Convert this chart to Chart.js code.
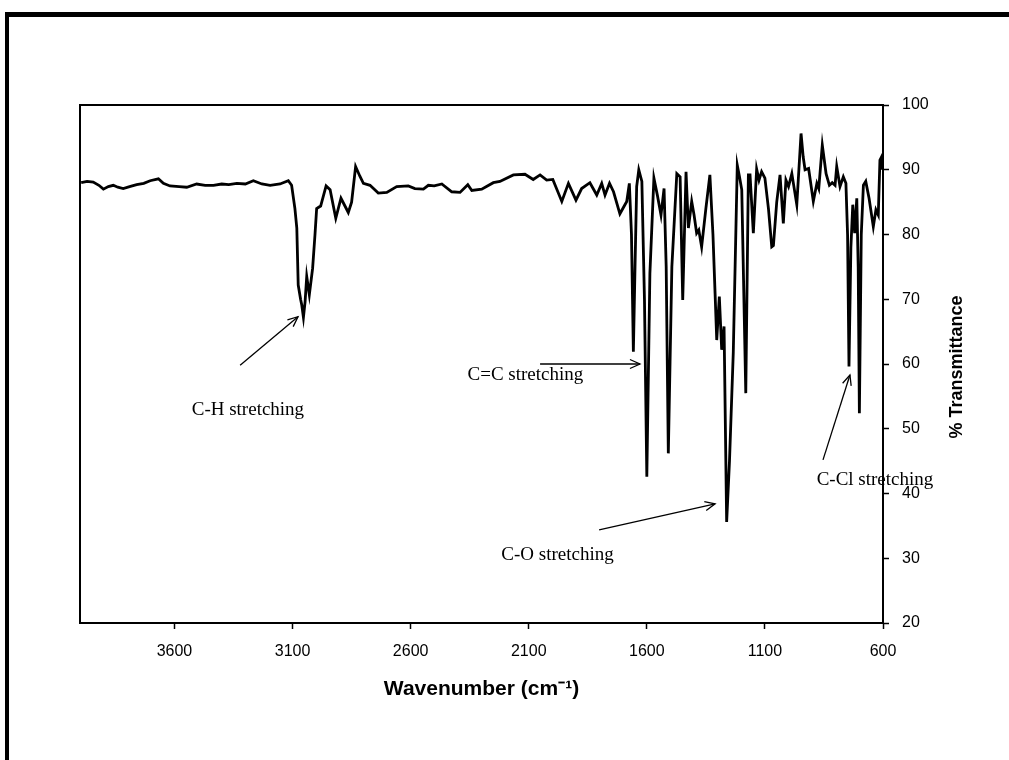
<!DOCTYPE html>
<html><head><meta charset="utf-8">
<script src="https://cdn.jsdelivr.net/npm/chart.js@4.4.1/dist/chart.umd.min.js"></script>
<style>html,body{margin:0;padding:0;background:#fff}#wrap{width:1009px;height:760px;position:relative}</style>
</head><body><div id="wrap"><canvas id="c" width="1009" height="760"></canvas></div>
<script>
const wavenumbers = [3995,3970,3944,3920,3901,3880,3859,3840,3817,3790,3760,3730,3703,3668,3647,3619,3580,3548,3506,3470,3435,3400,3370,3336,3300,3266,3230,3195,3153,3118,3104,3090,3082,3076,3066,3061,3054,3047,3040,3029,3015,3005,2998,2981,2958,2941,2917,2895,2864,2850,2833,2815,2800,2772,2737,2701,2659,2610,2582,2546,2525,2500,2468,2426,2391,2358,2341,2299,2250,2222,2165,2116,2081,2052,2024,1998,1960,1932,1900,1876,1841,1812,1791,1777,1758,1741,1714,1685,1674,1665,1657,1650,1643,1634,1621,1610,1600,1587,1570,1555,1540,1527,1518,1509,1494,1473,1459,1448,1434,1424,1410,1400,1389,1380,1368,1350,1333,1320,1311,1304,1293,1283,1273,1262,1250,1234,1217,1208,1198,1181,1170,1163,1149,1135,1125,1114,1100,1085,1071,1064,1050,1036,1022,1011,1000,986,965,947,938,930,915,895,880,872,857,841,827,815,803,796,782,768,757,750,744,736,728,720,711,705,700,692,683,673,659,641,630,620,613,606,603];
const transmittance = [88.0,88.2,88.1,87.6,87.0,87.4,87.6,87.3,87.1,87.4,87.7,87.9,88.3,88.6,87.9,87.5,87.4,87.3,87.8,87.6,87.6,87.8,87.7,87.9,87.8,88.3,87.8,87.6,87.8,88.3,87.6,84.0,81.0,72.2,70.0,69.1,67.2,69.6,73.5,70.7,74.8,80.0,84.0,84.4,87.5,86.9,82.5,85.6,83.4,85.0,90.5,89.0,87.9,87.6,86.4,86.5,87.4,87.5,87.1,87.0,87.6,87.5,87.8,86.6,86.5,87.7,86.8,87.0,88.0,88.2,89.2,89.3,88.5,89.2,88.4,88.5,85.1,87.9,85.3,87.1,88.0,86.1,87.9,86.1,87.9,86.6,83.2,85.1,87.9,80.0,61.9,75.0,87.4,90.0,88.2,70.0,42.6,74.0,88.7,86.0,83.0,87.1,75.0,46.2,75.0,89.4,88.9,69.9,89.7,81.0,85.1,83.0,80.2,80.7,78.1,84.0,89.2,80.0,70.9,63.7,70.4,62.2,65.8,35.6,45.0,61.7,90.7,89.0,86.9,55.5,89.2,89.2,80.2,90.1,88.4,89.7,88.7,84.0,78.1,78.3,85.0,89.2,81.7,88.4,87.4,89.4,84.6,95.6,92.0,90.0,90.2,85.1,87.9,87.1,93.8,89.4,87.6,88.0,87.6,90.5,87.4,88.9,87.9,80.0,59.6,78.0,84.6,80.2,85.6,75.0,52.4,80.0,87.6,88.2,85.6,81.2,83.8,83.0,91.5,92.0,90.0];
const xTickValues = [3600,3100,2600,2100,1600,1100,600];
const xRange = [600,4000];
const yRange = [20,100];
const yStep = 10;
const xTitle = 'Wavenumber (cm\u207B\u00B9)';
const yTitle = '% Transmittance';
const annotationLabels = ['C-H stretching','C=C stretching','C-O stretching','C-Cl stretching'];

// annotation placement (in data units: wavenumber, %T)
const annotationText = [[3289,52.9],[2114,58.3],[1978,30.5],[634,42.1]];
const annotationArrowFrom = [[3322,59.8],[2052,60.0],[1802,34.4],[854,45.2]];
const annotationArrowTo = [[3077,67.3],[1629,60.0],[1311,38.4],[740,58.3]];

const points = wavenumbers.map((w,i)=>({x:w,y:transmittance[i]}));

const framePlugin = {
  id:'frame',
  beforeDraw(chart){
    const ctx = chart.ctx;
    ctx.save();
    ctx.fillStyle='#fff';
    ctx.fillRect(0,0,chart.width,chart.height);
    ctx.fillStyle='#000';
    ctx.fillRect(5,12,chart.width-5,5);
    ctx.fillRect(5,12,4,chart.height-12);
    ctx.restore();
  },
  afterDraw(chart){
    const ctx = chart.ctx, a = chart.chartArea;
    const xs = chart.scales.x, ys = chart.scales.y;
    ctx.save();
    ctx.strokeStyle='#000';
    ctx.lineWidth=2;
    ctx.strokeRect(a.left,a.top,a.right-a.left,a.bottom-a.top);
    // y title, reading bottom-to-top
    ctx.translate(957,(a.top+a.bottom)/2+3);
    ctx.rotate(-Math.PI/2);
    ctx.font='bold 18px "Liberation Sans", Arial, sans-serif';
    ctx.fillStyle='#000';
    ctx.textAlign='center';
    ctx.textBaseline='middle';
    ctx.fillText(yTitle,0,0);
    ctx.restore();
    // annotations
    ctx.save();
    ctx.font='19px "Liberation Serif", "Times New Roman", serif';
    ctx.fillStyle='#000';
    ctx.strokeStyle='#000';
    ctx.lineWidth=1.3;
    ctx.textAlign='center';
    ctx.textBaseline='middle';
    annotationLabels.forEach((t,i)=>{
      ctx.fillText(t, xs.getPixelForValue(annotationText[i][0]), ys.getPixelForValue(annotationText[i][1]));
      const x1=xs.getPixelForValue(annotationArrowFrom[i][0]), y1=ys.getPixelForValue(annotationArrowFrom[i][1]);
      const x2=xs.getPixelForValue(annotationArrowTo[i][0]), y2=ys.getPixelForValue(annotationArrowTo[i][1]);
      ctx.beginPath(); ctx.moveTo(x1,y1); ctx.lineTo(x2,y2); ctx.stroke();
      const ang=Math.atan2(y2-y1,x2-x1), L=11, sp=0.42;
      ctx.beginPath();
      ctx.moveTo(x2-L*Math.cos(ang-sp), y2-L*Math.sin(ang-sp));
      ctx.lineTo(x2,y2);
      ctx.lineTo(x2-L*Math.cos(ang+sp), y2-L*Math.sin(ang+sp));
      ctx.stroke();
    });
    ctx.restore();
  }
};

new Chart(document.getElementById('c'),{
  type:'line',
  data:{datasets:[{data:points,borderColor:'#000',borderWidth:2.8,pointRadius:0,tension:0,fill:false}]},
  options:{
    responsive:false,animation:false,devicePixelRatio:1,
    layout:{padding:{left:80,top:105,right:0,bottom:0}},
    plugins:{legend:{display:false},tooltip:{enabled:false}},
    scales:{
      x:{type:'linear',position:'bottom',reverse:true,min:xRange[0],max:xRange[1],
        afterBuildTicks(s){s.ticks=xTickValues.map(v=>({value:v}));},
        afterFit(s){s.height=137;},
        grid:{drawOnChartArea:false,drawTicks:true,tickLength:6,tickColor:'#000',tickWidth:1.5},
        border:{display:true,color:'#000',width:2},
        ticks:{color:'#000',padding:13,maxRotation:0,autoSkip:false,callback:v=>String(v),font:{family:'"Liberation Sans", Arial, sans-serif',size:16}},
        title:{display:true,text:xTitle,color:'#000',padding:{top:0,bottom:58},font:{family:'"Liberation Sans", Arial, sans-serif',size:21,weight:'bold'}}
      },
      y:{type:'linear',position:'right',min:yRange[0],max:yRange[1],
        afterFit(s){s.width=126;},
        grid:{drawOnChartArea:false,drawTicks:true,tickLength:6,tickColor:'#000',tickWidth:1.5},
        border:{display:true,color:'#000',width:2},
        ticks:{stepSize:yStep,color:'#000',padding:13,callback:v=>String(v),font:{family:'"Liberation Sans", Arial, sans-serif',size:16}}
      }
    }
  },
  plugins:[framePlugin]
});
</script></body></html>
